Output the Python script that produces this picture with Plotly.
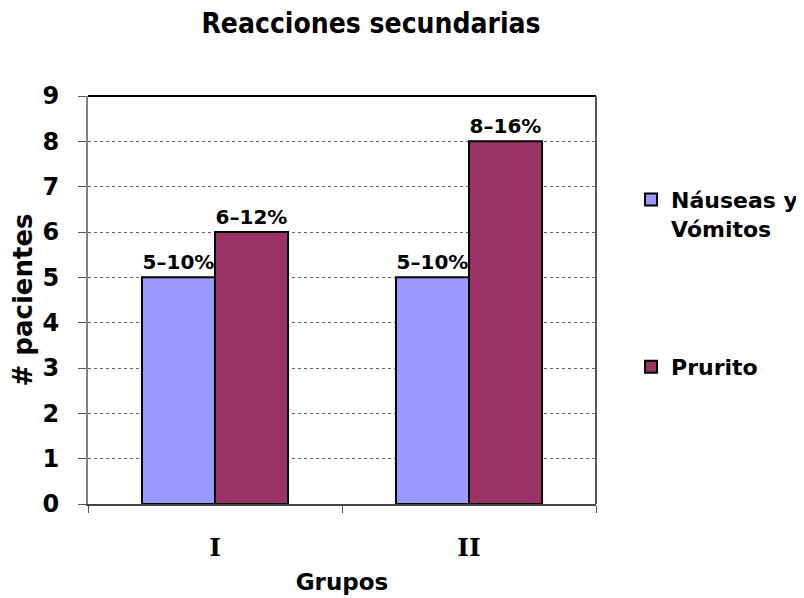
import plotly.graph_objects as go

grupos = ["I", "II"]
nauseas = [5, 5]
prurito = [6, 8]
nauseas_txt = ["5–10%", "5–10%"]
prurito_txt = ["6–12%", "8–16%"]

lbl_font = dict(family="DejaVu Sans", size=20, color="black", weight="bold")

fig = go.Figure()
fig.add_trace(go.Bar(x=grupos, y=nauseas, name="Náuseas y<br>Vómitos", text=nauseas_txt,
                     legendgroup="a", textposition="outside", cliponaxis=False,
                     marker=dict(color="#9999FF", line=dict(color="black", width=2)),
                     textfont=lbl_font))
fig.add_trace(go.Bar(x=grupos, y=prurito, name="Prurito", text=prurito_txt,
                     legendgroup="b", textposition="outside", cliponaxis=False,
                     marker=dict(color="#993366", line=dict(color="black", width=2)),
                     textfont=lbl_font))

fig.update_layout(
    width=804, height=598,
    margin=dict(l=80, r=216, t=88, b=102, autoexpand=False),
    paper_bgcolor="white", plot_bgcolor="white",
    barmode="group", bargap=0.425, bargroupgap=0,
    title=dict(text="<b>Reacciones secundarias</b>", x=0.4515, xanchor="center", y=0.975, yanchor="middle",
               font=dict(family="DejaVu Sans Condensed", size=28, color="black")),
    showlegend=True,
    legend=dict(x=1.069, y=0.797, xanchor="left", yanchor="top", tracegroupgap=107,
                valign="top",
                font=dict(family="DejaVu Sans", size=22, color="black", weight="bold"),
                itemwidth=30),
    xaxis=dict(title=dict(text="<b>Grupos</b>", font=dict(family="DejaVu Sans", size=23, color="black"), standoff=13),
               tickfont=dict(family="DejaVu Serif", size=25, color="black", weight="bold"),
               showline=True, linecolor="#444444", linewidth=1.5, automargin=False,
               tickson="boundaries", ticks="outside", ticklen=7, tickcolor="#555555",
               ticklabelstandoff=20, showgrid=False),
    yaxis=dict(title=dict(text="<b># pacientes</b>", font=dict(family="DejaVu Sans", size=26, color="black"), standoff=4),
               range=[0, 9], dtick=1, automargin=False,
               tickfont=dict(family="DejaVu Sans", size=24, color="black", weight="bold"),
               showgrid=True, gridcolor="#666666", griddash="dot", gridwidth=1,
               showline=True, linecolor="#808080", linewidth=2,
               ticks="outside", ticklen=8, tickcolor="#555555", ticklabelstandoff=14),
)
# plot border top/right
fig.add_shape(type="line", xref="paper", yref="paper", x0=0, y0=1, x1=1, y1=1,
              line=dict(color="black", width=2), layer="above")
fig.add_shape(type="line", xref="paper", yref="paper", x0=1, y0=0, x1=1, y1=1,
              line=dict(color="#555555", width=2), layer="above")

fig.write_html("out.html")
